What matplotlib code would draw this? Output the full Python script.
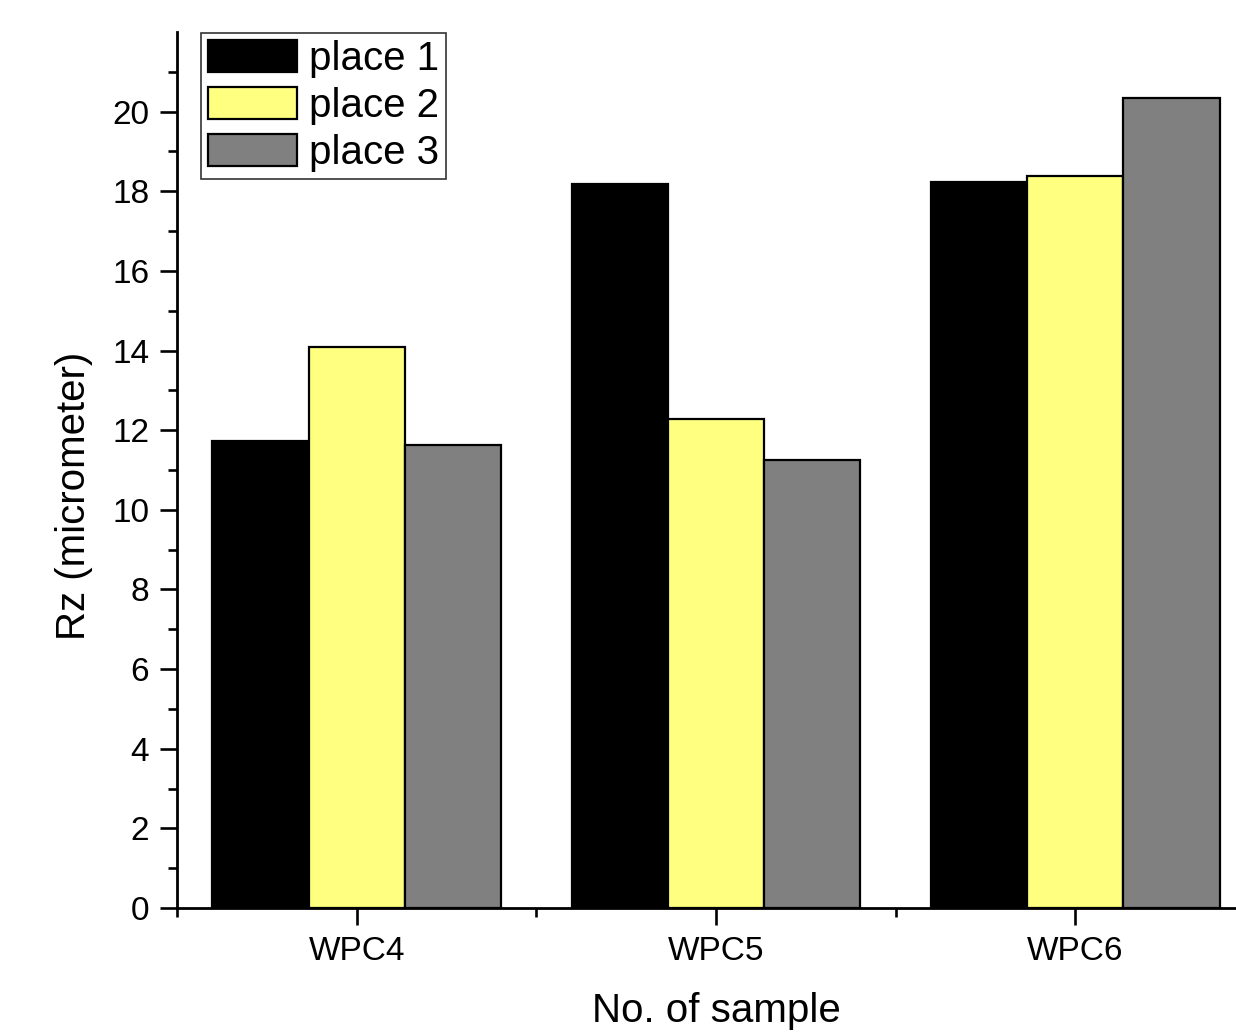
import matplotlib
matplotlib.use("Agg")
import matplotlib.pyplot as plt
import numpy as np
from matplotlib.ticker import FixedLocator

plt.rcParams['font.family'] = ['Liberation Sans', 'DejaVu Sans']

samples = ["WPC4", "WPC5", "WPC6"]
series_names = ["place 1", "place 2", "place 3"]
place1 = [11.72, 18.18, 18.24]
place2 = [14.08, 12.28, 18.38]
place3 = [11.62, 11.25, 20.34]
colors = ["#000000", "#FFFF80", "#808080"]

W, H = 1236, 1034
fig = plt.figure(figsize=(W / 100, H / 100), dpi=100)
x0, x1 = 177, 1255
y0, y1 = 908, 32
ax = fig.add_axes([x0 / W, (H - y0) / H, (x1 - x0) / W, (y0 - y1) / H])

x = np.arange(1, len(samples) + 1)
bw = 0.268
for i, (vals, name, c) in enumerate(zip([place1, place2, place3], series_names, colors)):
    ax.bar(x + (i - 1) * bw, vals, width=bw, color=c, edgecolor="black",
           linewidth=1.6, label=name, zorder=2)

ax.set_xlim(0.5, 3.5)
ax.set_ylim(0, 22)
ax.spines['top'].set_visible(False)
ax.spines['right'].set_visible(False)
for s in ['left', 'bottom']:
    ax.spines[s].set_linewidth(2.0)
    ax.spines[s].set_zorder(3)

ax.set_xticks(x)
ax.set_xticklabels(samples)
ax.xaxis.set_minor_locator(FixedLocator([0.5, 1.5, 2.5, 3.5]))
ax.yaxis.set_major_locator(FixedLocator([0, 2, 4, 6, 8, 10, 12, 14, 16, 18, 20]))
ax.yaxis.set_minor_locator(FixedLocator([1, 3, 5, 7, 9, 11, 13, 15, 17, 19, 21]))
ax.tick_params(axis='both', which='major', direction='out', length=12, width=1.9,
               labelsize=24, pad=8)
ax.tick_params(axis='both', which='minor', direction='out', length=6.5, width=1.9)

ax.set_xlabel("No. of sample", fontsize=29, labelpad=18)
ax.set_ylabel("Rz (micrometer)", fontsize=29)
ax.yaxis.set_label_coords(-0.078, 0.47)

leg = ax.legend(loc='upper left', bbox_to_anchor=(201 / W, 1 - 33 / H),
                bbox_transform=fig.transFigure, borderaxespad=0,
                fontsize=29, frameon=True, fancybox=False, shadow=False,
                handlelength=2.2, handleheight=0.85, handletextpad=0.3,
                labelspacing=0.22, borderpad=0.18)
leg.get_frame().set_edgecolor("black")
leg.get_frame().set_linewidth(1.2)

fig.savefig("out.png", dpi=100)
